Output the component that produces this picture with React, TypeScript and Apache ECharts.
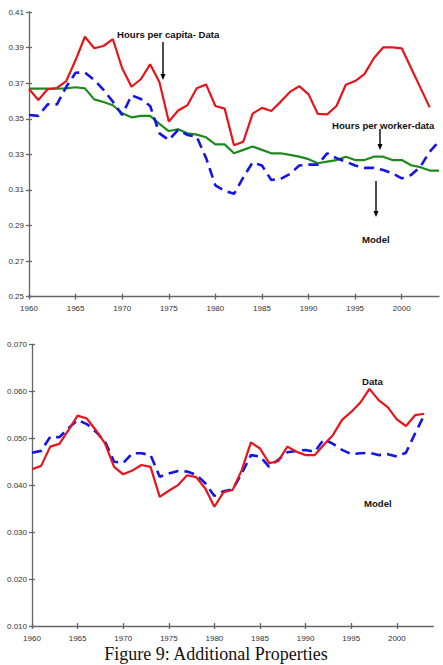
import React, { useEffect, useRef } from "react";
import * as echarts from "echarts";

// Years for the two panels
const yearsTop = [
  1960, 1961, 1962, 1963, 1964, 1965, 1966, 1967, 1968, 1969,
  1970, 1971, 1972, 1973, 1974, 1975, 1976, 1977, 1978, 1979,
  1980, 1981, 1982, 1983, 1984, 1985, 1986, 1987, 1988, 1989,
  1990, 1991, 1992, 1993, 1994, 1995, 1996, 1997, 1998, 1999,
  2000, 2001, 2002, 2003, 2004,
];
const yearsBottom = yearsTop.slice(0, 44);

// Upper panel: hours
const hoursPerCapita = [
  0.3667, 0.3605, 0.3666, 0.3673, 0.3712, 0.383, 0.3961, 0.3896, 0.3909, 0.3947,
  0.3784, 0.368, 0.3722, 0.3806, 0.3705, 0.3484, 0.3546, 0.3576, 0.3671, 0.3693,
  0.3572, 0.3557, 0.3351, 0.3371, 0.3529, 0.3561, 0.3544, 0.3595, 0.3651, 0.3683,
  0.3637, 0.3527, 0.3525, 0.3572, 0.3691, 0.3712, 0.3751, 0.384, 0.3901, 0.3901,
  0.3896, 0.3785, 0.3675, 0.3564,
];
const hoursPerWorker = [
  0.3669, 0.3669, 0.3669, 0.3669, 0.3671, 0.3677, 0.3671, 0.3609, 0.3594, 0.3576,
  0.3531, 0.3508, 0.3516, 0.3516, 0.3471, 0.3431, 0.3441, 0.3418, 0.3411, 0.3396,
  0.3356, 0.3356, 0.3306, 0.3325, 0.3344, 0.3325, 0.3306, 0.3306, 0.3297, 0.3287,
  0.3273, 0.325, 0.3259, 0.3268, 0.3287, 0.3268, 0.3268, 0.3287, 0.3287, 0.3268,
  0.3268, 0.3239, 0.3228, 0.3209, 0.3209,
];
const hoursModel = [
  0.3521, 0.3516, 0.3581, 0.3581, 0.368, 0.3759, 0.376, 0.3718, 0.3662, 0.3596,
  0.3521, 0.3632, 0.3611, 0.3572, 0.3418, 0.3381, 0.3437, 0.3409, 0.3399, 0.328,
  0.3126, 0.3095, 0.3078, 0.3171, 0.3255, 0.3237, 0.3156, 0.3162, 0.319, 0.3237,
  0.3242, 0.3242, 0.3306, 0.3278, 0.3259, 0.3237, 0.3224, 0.3224, 0.3212, 0.3193,
  0.3165, 0.3184, 0.323, 0.3315, 0.3373,
];

// Lower panel
const lowerData = [
  0.0434, 0.0441, 0.0482, 0.0488, 0.0517, 0.0548, 0.0542, 0.0517, 0.0489, 0.0439,
  0.0423, 0.0431, 0.0443, 0.0439, 0.0375, 0.0388, 0.04, 0.0421, 0.0417, 0.0393,
  0.0354, 0.0385, 0.039, 0.0432, 0.0491, 0.0478, 0.0447, 0.0451, 0.0482, 0.0471,
  0.0464, 0.0464, 0.0486, 0.0507, 0.0539, 0.0556, 0.0576, 0.0605, 0.0581, 0.0566,
  0.054, 0.0526, 0.0549, 0.0552,
];
const lowerModel = [
  0.0469, 0.0473, 0.0503, 0.0502, 0.0521, 0.0539, 0.053, 0.0514, 0.0493, 0.045,
  0.0447, 0.0468, 0.0468, 0.0464, 0.0418, 0.0425, 0.043, 0.0429, 0.0422, 0.0404,
  0.0377, 0.0387, 0.0391, 0.0425, 0.0464, 0.0461, 0.0439, 0.0454, 0.047, 0.0473,
  0.0475, 0.0471, 0.0498, 0.0488, 0.0475, 0.0466, 0.0468, 0.0469, 0.0464, 0.0466,
  0.0461, 0.0469, 0.051, 0.0549,
];

// Tick labels
const xTicks = [1960, 1965, 1970, 1975, 1980, 1985, 1990, 1995, 2000];
const yTicksTop = [0.25, 0.27, 0.29, 0.31, 0.33, 0.35, 0.37, 0.39, 0.41];
const yTicksBottom = [0.01, 0.02, 0.03, 0.04, 0.05, 0.06, 0.07];

const RED = "#e8141c";
const GREEN = "#1e8a1e";
const BLUE = "#1414e6";
const AXIS = "#666";
const FONT = "Liberation Sans, Arial, sans-serif";

const pairs = (xs: number[], ys: number[]) => ys.map((v, i) => [xs[i], v]);

function xAxes(gridIndex: number) {
  const base = {
    type: "value",
    gridIndex,
    min: 1960,
    max: 2004,
    interval: 5,
    position: "bottom",
    splitLine: { show: false },
  };
  return [
    {
      ...base,
      axisLine: { show: true, lineStyle: { color: AXIS, width: 1.3 } },
      axisTick: { show: true, length: 3, customValues: xTicks, lineStyle: { color: AXIS, width: 1.3 } },
      axisLabel: {
        show: true,
        customValues: xTicks,
        fontSize: 8,
        fontFamily: FONT,
        color: "#333",
        margin: 8,
        formatter: (v: number) => String(v),
      },
    },
    {
      ...base,
      axisLine: { show: false },
      axisTick: { show: true, inside: true, length: 3, customValues: xTicks, lineStyle: { color: AXIS, width: 1.3 } },
      axisLabel: { show: false },
    },
  ];
}

function yAxes(gridIndex: number, ticks: number[], digits: number) {
  const base = {
    type: "value",
    gridIndex,
    min: ticks[0],
    max: ticks[ticks.length - 1],
    interval: ticks[1] - ticks[0],
    position: "left",
    splitLine: { show: false },
  };
  return [
    {
      ...base,
      axisLine: { show: true, lineStyle: { color: AXIS, width: 1.3 } },
      axisTick: { show: true, length: 3, customValues: ticks, lineStyle: { color: AXIS, width: 1.3 } },
      axisLabel: {
        show: true,
        customValues: ticks,
        fontSize: 8,
        fontFamily: FONT,
        color: "#333",
        margin: 5,
        formatter: (v: number) => v.toFixed(digits),
      },
    },
    {
      ...base,
      axisLine: { show: false },
      axisTick: { show: true, inside: true, length: 3, customValues: ticks, lineStyle: { color: AXIS, width: 1.3 } },
      axisLabel: { show: false },
    },
  ];
}

function lineSeries(name: string, data: number[][], color: string, axis: number, dashed: boolean) {
  return {
    type: "line",
    name,
    data,
    xAxisIndex: axis,
    yAxisIndex: axis,
    symbol: "none",
    silent: true,
    lineStyle: dashed
      ? { color, width: 2.6, type: [10, 6], cap: "butt" }
      : { color, width: 2.2 },
  };
}

function annotation(text: string, x: number, y: number) {
  return {
    type: "text",
    x,
    y,
    style: {
      text,
      fontSize: 9.6,
      fontWeight: "bold",
      fontFamily: FONT,
      fill: "#111",
      verticalAlign: "middle",
    },
  };
}

function arrow(x: number, y1: number, y2: number) {
  return {
    type: "group",
    children: [
      { type: "line", shape: { x1: x, y1, x2: x, y2: y2 - 5 }, style: { stroke: "#000", lineWidth: 1.4 } },
      {
        type: "polygon",
        shape: { points: [[x - 2.5, y2 - 6], [x + 2.5, y2 - 6], [x, y2]] },
        style: { fill: "#000" },
      },
    ],
  };
}

export default function App() {
  const ref = useRef<HTMLDivElement>(null);

  useEffect(() => {
    if (!ref.current) return;
    const chart = echarts.init(ref.current, undefined, { renderer: "svg" });
    const xa = [...xAxes(0), ...xAxes(1)];
    const ya = [...yAxes(0, yTicksTop, 2), ...yAxes(1, yTicksBottom, 3)];
    chart.setOption({
      animation: false,
      backgroundColor: "#fff",
      grid: [
        { left: 29, top: 12, width: 410, height: 284.7 },
        { left: 32, top: 344.3, width: 401.3, height: 281.7 },
      ],
      xAxis: xa,
      yAxis: ya,
      series: [
        lineSeries("Hours per worker-data", pairs(yearsTop, hoursPerWorker), GREEN, 0, false),
        lineSeries("Model", pairs(yearsTop, hoursModel), BLUE, 0, true),
        lineSeries("Hours per capita- Data", pairs(yearsTop, hoursPerCapita), RED, 0, false),
        lineSeries("Model", pairs(yearsBottom, lowerModel), BLUE, 2, true),
        lineSeries("Data", pairs(yearsBottom, lowerData), RED, 2, false),
      ],
      graphic: [
        annotation("Hours per capita- Data", 117, 34),
        arrow(163, 42, 80),
        annotation("Hours per worker-data", 332, 125),
        arrow(380, 129, 150),
        annotation("Model", 362, 239),
        arrow(376, 181, 217),
        annotation("Data", 362, 381),
        annotation("Model", 364, 503),
        {
          type: "text",
          x: 216,
          y: 654,
          style: {
            text: "Figure 9: Additional Properties",
            fontSize: 18,
            fontFamily: "Liberation Serif, Times New Roman, serif",
            fill: "#111",
            align: "center",
            verticalAlign: "middle",
          },
        },
      ],
    });
    return () => chart.dispose();
  }, []);

  return (
    <div
      ref={ref}
      style={{ position: "absolute", left: 0, top: 0, width: 443, height: 665 }}
    />
  );
}
